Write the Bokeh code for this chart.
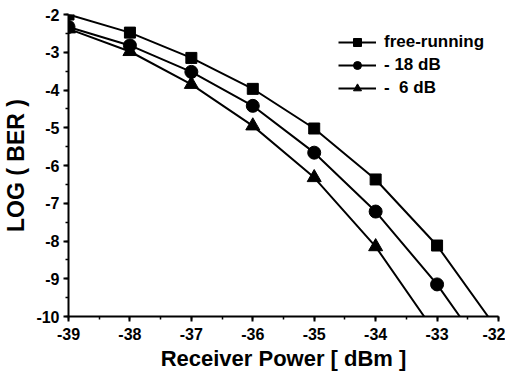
from bokeh.plotting import figure
from bokeh.models import Range1d, SingleIntervalTicker, Legend, LegendItem, PrintfTickFormatter
from bokeh.embed import file_html
from bokeh.resources import INLINE

# ---- data ----
power = [-39, -38, -37, -36, -35, -34, -33]
free_running = [-2.0, -2.48, -3.15, -3.97, -5.02, -6.37, -8.12]
free_running_end = (-32.17, -10.0)
minus18 = [-2.33, -2.82, -3.52, -4.42, -5.66, -7.22, -9.15]
minus18_end = (-32.63, -10.0)
power6 = [-39, -38, -37, -36, -35, -34]
minus6 = [-2.38, -2.98, -3.85, -4.95, -6.32, -8.15]
minus6_end = (-33.21, -10.0)

labels = ["free-running", "- 18 dB", "-  6 dB"]
x_title = "Receiver Power [ dBm ]"
y_title = "LOG ( BER )"

FONT = "Liberation Sans"

p = figure(width=505, height=375, output_backend="svg", toolbar_location=None,
           x_range=Range1d(-39, -32), y_range=Range1d(-10, -2),
           min_border_left=63, min_border_right=7, min_border_top=14, min_border_bottom=59)
p.outline_line_color = None
p.grid.visible = False
p.background_fill_color = "white"

series = [
    (power, free_running, free_running_end, "square", 11),
    (power, minus18, minus18_end, "circle", 13),
    (power6, minus6, minus6_end, "triangle", 14),
]
items = []
for (xs, ys, end, marker, size), lab in zip(series, labels):
    lx = list(xs) + [end[0]]
    ly = list(ys) + [end[1]]
    r1 = p.line(lx, ly, line_color="black", line_width=2)
    r2 = p.scatter(xs, ys, marker=marker, size=size, fill_color="black", line_color="black")
    items.append(LegendItem(label=lab, renderers=[r1, r2]))

legend = Legend(items=items, location=(270, 218), background_fill_alpha=0,
                border_line_color=None, glyph_width=38, glyph_height=20,
                label_height=20, spacing=3, padding=0, margin=0, label_standoff=8,
                label_text_font=FONT, label_text_font_style="bold",
                label_text_font_size="17px", label_text_color="black")
p.add_layout(legend, "center")

for ax in (p.xaxis[0], p.yaxis[0]):
    ax.axis_line_width = 2
    ax.axis_line_color = "black"
    ax.major_tick_line_width = 2
    ax.minor_tick_line_width = 1.5
    ax.major_tick_out = 5
    ax.major_tick_in = 0
    ax.minor_tick_out = 3
    ax.minor_tick_in = 0
    ax.major_label_text_font = FONT
    ax.major_label_text_font_style = "bold"
    ax.major_label_text_font_size = "16px"
    ax.major_label_text_color = "black"
    ax.axis_label_text_font = FONT
    ax.axis_label_text_font_style = "bold"
    ax.axis_label_text_font_size = "22px"
    ax.axis_label_text_color = "black"
    ax.formatter = PrintfTickFormatter(format="%d")

p.yaxis.axis_label_text_font_size = "23px"
p.xaxis.ticker = SingleIntervalTicker(interval=1, num_minor_ticks=2)
p.yaxis.ticker = SingleIntervalTicker(interval=1, num_minor_ticks=2)
p.xaxis.axis_label = x_title
p.yaxis.axis_label = y_title
p.xaxis.major_label_standoff = 6
p.yaxis.major_label_standoff = 4
p.xaxis.axis_label_standoff = 3
p.yaxis.axis_label_standoff = 4

open("out.html", "w").write(file_html(p, INLINE))
